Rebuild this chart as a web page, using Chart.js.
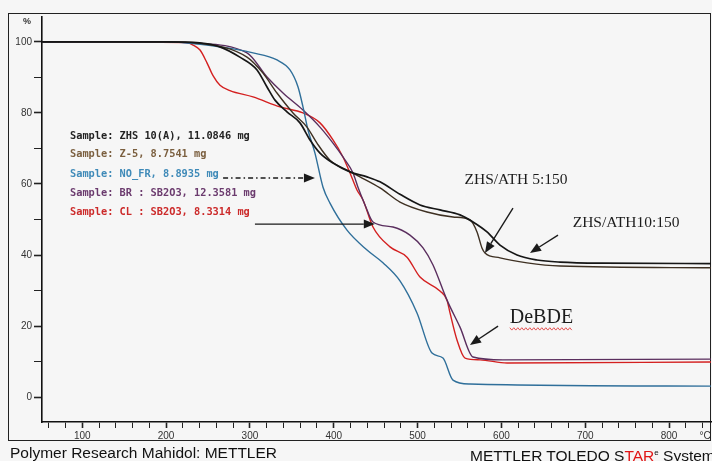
<!DOCTYPE html>
<html>
<head>
<meta charset="utf-8">
<script src="https://cdn.jsdelivr.net/npm/chart.js@4.4.1/dist/chart.umd.min.js"></script>
<style>
  html, body { margin: 0; padding: 0; background: #f6f6f6; }
  #wrap { position: relative; width: 712px; height: 461px; overflow: hidden; }
  #frame { position: absolute; left: 8px; top: 13px; width: 703px; height: 428px;
           border: 1.5px solid #222; box-sizing: border-box; }
  #wrap canvas { position: absolute; left: 0; top: 0; }
  .foot { position: absolute; top: 444px; font-family: "Liberation Sans", Arial, sans-serif;
          font-size: 15.5px; color: #111; white-space: nowrap; line-height: 18px; }
  .foot sup { font-size: 8px; }
</style>
</head>
<body>
<div id="wrap">
  <div id="frame"></div>
  <canvas id="tga" width="712" height="461"></canvas>
  <div class="foot" style="left:10px">Polymer Research Mahidol: METTLER</div>
  <div class="foot" style="left:470px">METTLER TOLEDO S<span style="color:#e01515">TAR</span><sup>e</sup> System</div>
</div>
<script>
const sampleLabels = [
  'Sample: ZHS 10(A), 11.0846 mg',
  'Sample: Z-5, 8.7541 mg',
  'Sample: NO_FR, 8.8935 mg',
  'Sample: BR : SB2O3, 12.3581 mg',
  'Sample: CL : SB2O3, 8.3314 mg'
];

// ZHS 10(A)  (ZHS/ATH 10:150)
const zhs10T = [52, 200, 240, 264, 288, 308.5, 320.4, 329.9, 344.2, 359.7, 371.7, 383.6, 399.1, 419.4, 439.7, 455.2, 479, 502.9, 526.7, 550.6, 566.1, 582.8, 598.3, 618.6, 642.4, 669.9, 720, 850];
const zhs10W = [100, 100, 99.7, 98.6, 95.7, 92.1, 87.3, 83.6, 80.3, 77.2, 72.4, 68.7, 65.9, 63.4, 62.0, 60.6, 57.1, 54.1, 52.7, 51.3, 49.3, 46.5, 42.8, 40.0, 38.6, 38.0, 37.7, 37.6];

// Z-5  (ZHS/ATH 5:150)
const z5T = [52, 200, 240, 296.5, 315.6, 332.3, 351.4, 368.1, 380, 395.5, 415.8, 431.3, 455.2, 479, 511.2, 542.2, 562.5, 570.9, 576.8, 580.4, 598.3, 630.6, 669.9, 850];
const z5W = [100, 100, 99.6, 95.7, 91.2, 85.6, 80.0, 76.0, 71.5, 66.7, 63.9, 62.0, 58.9, 54.9, 52.1, 50.7, 49.9, 46.5, 42.0, 40.6, 39.2, 37.8, 36.9, 36.4];

// NO_FR
const noFrT = [52, 200, 264.3, 303.7, 332.3, 347.8, 357.4, 363.3, 369.3, 377.6, 387.2, 395.5, 415.8, 439.7, 458.7, 479, 499.3, 517.2, 530.3, 542.2, 562.5, 850];
const noFrW = [100, 100, 98.6, 96.9, 94.9, 92.1, 87.3, 81.7, 75.2, 68.7, 59.1, 54.6, 47.0, 41.4, 37.8, 32.7, 23.7, 12.4, 11.0, 4.8, 3.7, 3.1];

// BR : SB2O3  (DeBDE)
const brT = [52, 200, 230, 296.5, 320.4, 339.5, 363.3, 383.6, 399.1, 411.0, 423.0, 428.9, 437.3, 446.8, 470.7, 490.9, 506.5, 518.4, 535.1, 550.6, 566.1, 601.9, 850];
const brW = [100, 100, 99.7, 96.9, 90.1, 85.6, 80.8, 76.0, 71.5, 67.6, 63.1, 59.1, 54.1, 49.3, 47.9, 45.6, 42.0, 37.2, 27.3, 19.7, 11.3, 10.5, 10.7];

// CL : SB2O3
const clT = [52, 225, 232.1, 240.5, 248.8, 256, 264.3, 276.2, 303.7, 335.9, 363.3, 383.6, 399.1, 411.0, 419.4, 427.7, 434.9, 446.8, 467.1, 487.4, 502.9, 526.7, 535.1, 538.7, 547.0, 556.6, 574.5, 606.7, 850];
const clW = [100, 99.8, 99.1, 97.7, 94.1, 90.5, 87.8, 86.3, 84.5, 81.7, 80.0, 77.2, 72.4, 67.6, 63.1, 58.3, 55.5, 47.9, 42.3, 39.4, 33.8, 29.9, 27.3, 23.7, 16.1, 11.0, 10.5, 9.6, 9.9];

const lineColors = ['#161616', '#3e3022', '#2f6f9a', '#5a2e5e', '#d42020'];
const textColors = ['#222222', '#7b5f3f', '#3f8ab8', '#6b3b6e', '#cc2a2a'];

// Eixos
const xTicks = [60, 80, 100, 120, 140, 160, 180, 200, 220, 240, 260, 280, 300, 320, 340, 360, 380, 400, 420, 440, 460, 480, 500, 520, 540, 560, 580, 600, 620, 640, 660, 680, 700, 720, 740, 760, 780, 800, 820, 840];
const xLabels = [100, 200, 300, 400, 500, 600, 700, 800];
const yTicks = [0, 10, 20, 30, 40, 50, 60, 70, 80, 90, 100];
const yLabels = [0, 20, 40, 60, 80, 100];

// Anotações (coordenadas em °C / %)
const notes = [
  { text: 'ZHS/ATH 5:150', x: 556, y: 61.1, size: 15.5 },
  { text: 'ZHS/ATH10:150', x: 685, y: 49.0, size: 15.5 },
  { text: 'DeBDE', x: 610, y: 22.3, size: 20 }
];
const arrows = [
  { from: [268, 61.7], to: [377.6, 61.7], dash: true },
  { from: [306, 48.7], to: [449, 48.7], dash: false },
  { from: [613.8, 53.2], to: [580.4, 40.6], dash: false },
  { from: [667.5, 45.6], to: [634.1, 40.6], dash: false },
  { from: [596, 20.0], to: [562.5, 14.7], dash: false }
];

function pares(ts, ws) {
  return ts.map((t, i) => ({ x: t, y: ws[i] }));
}
const series = [pares(zhs10T, zhs10W), pares(z5T, z5W), pares(noFrT, noFrW), pares(brT, brW), pares(clT, clW)];

function seta(ctx, x1, y1, x2, y2, dash) {
  const ang = Math.atan2(y2 - y1, x2 - x1);
  const hl = 11, hw = 4.5;
  const bx = x2 - hl * Math.cos(ang), by = y2 - hl * Math.sin(ang);
  ctx.save();
  ctx.strokeStyle = '#1a1a1a';
  ctx.fillStyle = '#1a1a1a';
  ctx.lineWidth = 1.4;
  ctx.setLineDash(dash ? [5, 3, 1.5, 3] : []);
  ctx.beginPath();
  ctx.moveTo(x1, y1);
  ctx.lineTo(bx, by);
  ctx.stroke();
  ctx.setLineDash([]);
  ctx.beginPath();
  ctx.moveTo(x2, y2);
  ctx.lineTo(bx + hw * Math.sin(ang), by - hw * Math.cos(ang));
  ctx.lineTo(bx - hw * Math.sin(ang), by + hw * Math.cos(ang));
  ctx.closePath();
  ctx.fill();
  ctx.restore();
}

const anotacoes = {
  id: 'anotacoes',
  afterDraw(chart) {
    const { ctx, scales: { x, y }, chartArea } = chart;
    ctx.save();
    // legenda das amostras
    ctx.font = 'bold 10.3px "DejaVu Sans Mono", "Liberation Mono", monospace';
    ctx.textBaseline = 'middle';
    const rows = [73.5, 68.4, 62.8, 57.5, 52.1];
    sampleLabels.forEach((s, i) => {
      ctx.fillStyle = textColors[i];
      ctx.fillText(s, x.getPixelForValue(85.4), y.getPixelForValue(rows[i]));
    });
    // textos
    ctx.fillStyle = '#1c1c1c';
    notes.forEach(n => {
      ctx.font = n.size + 'px "Liberation Serif", "Times New Roman", serif';
      ctx.fillText(n.text, x.getPixelForValue(n.x), y.getPixelForValue(n.y));
    });
    // sublinhado ondulado do DeBDE
    const d = notes[2];
    ctx.font = d.size + 'px "Liberation Serif", serif';
    const w = ctx.measureText(d.text).width;
    const ux = x.getPixelForValue(d.x), uy = y.getPixelForValue(d.y) + 11;
    ctx.strokeStyle = '#e04040';
    ctx.lineWidth = 0.9;
    ctx.beginPath();
    for (let k = 0; k <= w; k += 2) {
      const yy = uy + ((k / 2) % 2 ? 1.2 : -1.2);
      if (k === 0) ctx.moveTo(ux + k, yy); else ctx.lineTo(ux + k, yy);
    }
    ctx.stroke();
    // setas
    arrows.forEach(a => seta(ctx, x.getPixelForValue(a.from[0]), y.getPixelForValue(a.from[1]),
      x.getPixelForValue(a.to[0]), y.getPixelForValue(a.to[1]), a.dash));
    // unidades
    ctx.fillStyle = '#333';
    ctx.font = 'bold 9px "Liberation Sans", Arial, sans-serif';
    ctx.textAlign = 'center';
    ctx.fillText('%', chartArea.left - 15, y.getPixelForValue(105.6));
    ctx.font = '10px "Liberation Sans", Arial, sans-serif';
    ctx.fillText('°C', x.getPixelForValue(843), x.bottom - 6);
    ctx.restore();
  }
};

const ctx = document.getElementById('tga').getContext('2d');
new Chart(ctx, {
  type: 'line',
  data: {
    datasets: series.map((d, i) => ({
      label: sampleLabels[i],
      data: d,
      borderColor: lineColors[i],
      borderWidth: i === 0 ? 1.7 : 1.4,
      pointRadius: 0,
      cubicInterpolationMode: 'monotone',
      fill: false
    }))
  },
  options: {
    responsive: false,
    animation: false,
    layout: { padding: { left: 8, top: 17, right: 1, bottom: 19 } },
    plugins: { legend: { display: false }, tooltip: { enabled: false } },
    scales: {
      x: {
        type: 'linear',
        min: 52,
        max: 850,
        afterBuildTicks: s => { s.ticks = xTicks.map(v => ({ value: v })); },
        afterFit: s => { s.height = 20; },
        border: { display: true, color: '#111', width: 1.6 },
        grid: { drawOnChartArea: false, drawTicks: true, tickLength: 6, tickColor: '#222',
                tickWidth: c => (xLabels.includes(c.tick.value) ? 1.6 : 1) },
        ticks: {
          autoSkip: false,
          maxRotation: 0,
          padding: 2,
          color: '#333',
          font: { family: '"Liberation Sans", Arial, sans-serif', size: 10 },
          callback: v => (xLabels.includes(v) ? String(v) : '')
        }
      },
      y: {
        min: -7,
        max: 107,
        afterBuildTicks: s => { s.ticks = yTicks.map(v => ({ value: v })); },
        afterFit: s => { s.width = 34; },
        border: { display: true, color: '#111', width: 1.6 },
        grid: { drawOnChartArea: false, drawTicks: true, tickLength: 8, tickColor: '#222',
                tickWidth: c => (yLabels.includes(c.tick.value) ? 1.6 : 1) },
        ticks: {
          autoSkip: false,
          padding: 2,
          color: '#333',
          font: { family: '"Liberation Sans", Arial, sans-serif', size: 10 },
          callback: v => (yLabels.includes(v) ? String(v) : '')
        }
      }
    }
  },
  plugins: [anotacoes]
});
</script>
</body>
</html>
